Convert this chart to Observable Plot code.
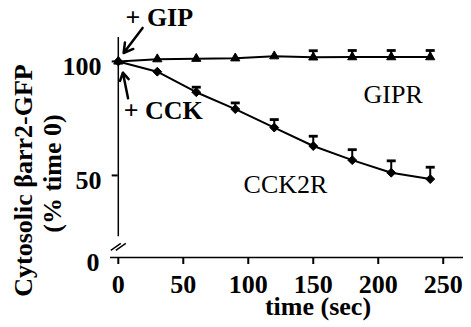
<!DOCTYPE html>
<html><head><meta charset="utf-8">
<script src="https://cdn.jsdelivr.net/npm/d3@7"></script>
<script src="https://cdn.jsdelivr.net/npm/@observablehq/plot@0.6"></script>
<style>body{margin:0;background:#fff} svg text{font-family:'Liberation Serif','Times New Roman',serif !important}</style>
</head><body><div id="chart"></div>
<script>
// ---- data ----
const times    = [0, 30, 60, 90, 120, 150, 180, 210, 240];
const gipr     = [100, 101, 101.2, 101.4, 102.3, 101.8, 101.9, 101.9, 101.9];
const giprErr  = [0, 0, 0, 0, 0, 2.9, 2.9, 2.9, 2.9];
const cck2r    = [100, 95.5, 86.5, 79.1, 71, 62.9, 56.7, 51.2, 48.4];
const cck2rErr = [0, 0, 2.2, 2.7, 3.5, 4.3, 4.6, 5.2, 5.2];
const xTicks = [0, 50, 100, 150, 200, 250];
const yTicks = [50, 100];
const yTickLabels = ["50", "100"];
// broken y axis: "0" is drawn at this position
const yZeroAt = 14;
const yAxisTop = 110.5;
const yAxisBreakEnd = 23.1;
const yBreakMark = 18.9;
const xLabel = "time (sec)";
const yLabel1 = "Cytosolic βarr2-GFP";
const yLabel2 = "(% time 0)";
const boldNotes = [{text: "+ GIP", t: 5.6, v: 115.6}, {text: "+ CCK", t: 4.1, v: 74.8}];
const seriesNotes = [{text: "GIPR", t: 188.7, v: 81.9}, {text: "CCK2R", t: 96.4, v: 42.3}];
const arrows = [{x1: 18.7, y1: 114.7, x2: 4.1, y2: 103.7}, {x1: 7.5, y1: 83.8, x2: 3.5, y2: 95.1}];

const giprRows = times.map((t, i) => ({t, v: gipr[i], e: giprErr[i]}));
const cckRows = times.map((t, i) => ({t, v: cck2r[i], e: cck2rErr[i]}));
const allRows = giprRows.concat(cckRows);
const errRows = allRows.filter(d => d.e > 0);

const capSymbol = {draw(ctx) { const w = 4.5, h = 1.4; ctx.moveTo(-w, -h); ctx.lineTo(w, -h); ctx.lineTo(w, h); ctx.lineTo(-w, h); ctx.closePath(); }};
const breakSymbol = {draw(ctx) { ctx.moveTo(-7.5, 4); ctx.lineTo(2.5, -3); ctx.moveTo(-2.5, 4); ctx.lineTo(7.5, -3); }};

const font = "'Liberation Serif', 'Times New Roman', serif";
const axisShift = 7.7; // y axis drawn at time 0, not at the frame edge

const chart = Plot.plot({
  width: 471,
  height: 327,
  marginTop: 37,
  marginBottom: 70,
  marginLeft: 110,
  marginRight: 8,
  style: {fontFamily: font, fontSize: "26px", fontWeight: "bold", background: "#fff", color: "#000"},
  x: {domain: [-6, 265.6]},
  y: {domain: [yZeroAt, yAxisTop]},
  marks: [
    Plot.ruleY([yZeroAt], {stroke: "black", strokeWidth: 1.5}),
    Plot.ruleX([0], {y1: yAxisBreakEnd, y2: yAxisTop, stroke: "black", strokeWidth: 1.5}),
    Plot.dot([{t: 0, v: yBreakMark}], {x: "t", y: "v", symbol: breakSymbol, fill: "none", stroke: "black", strokeWidth: 1.4}),
    Plot.axisX({ticks: xTicks, tickSize: 7, tickPadding: 10, strokeWidth: 2, fontSize: 26, fontFamily: font, fontWeight: "bold", label: null}),
    Plot.axisY({ticks: yTicks, tickSize: 6, strokeWidth: 2, dx: axisShift, tickFormat: () => "", label: null}),
    Plot.text(yTicks, {y: d => d, text: (d, i) => yTickLabels[i], frameAnchor: "left", dx: -9, dy: 5, textAnchor: "end", fontSize: 26, fontFamily: font, fontWeight: "bold"}),
    Plot.text(["0"], {y: () => yZeroAt, frameAnchor: "left", dx: -11, dy: 5, textAnchor: "end", fontSize: 26, fontFamily: font, fontWeight: "bold"}),
    Plot.text([xLabel], {frameAnchor: "bottom", dx: 31, dy: 57, textAnchor: "middle", lineAnchor: "bottom", fontSize: 26, fontFamily: font, fontWeight: "bold"}),
    Plot.text([yLabel1], {frameAnchor: "left", rotate: -90, dx: -79, dy: 33, textAnchor: "middle", lineAnchor: "bottom", fontSize: 26, fontFamily: font, fontWeight: "bold"}),
    Plot.text([yLabel2], {frameAnchor: "left", rotate: -90, dx: -50, dy: 26, textAnchor: "middle", lineAnchor: "bottom", fontSize: 26, fontFamily: font, fontWeight: "bold"}),
    Plot.line(giprRows, {x: "t", y: "v", stroke: "black", strokeWidth: 2}),
    Plot.line(cckRows, {x: "t", y: "v", stroke: "black", strokeWidth: 2}),
    Plot.ruleX(errRows, {x: "t", y1: "v", y2: d => d.v + d.e, stroke: "black", strokeWidth: 2}),
    Plot.dot(errRows, {x: "t", y: d => d.v + d.e, symbol: capSymbol, fill: "black", stroke: "none"}),
    Plot.dot(giprRows, {x: "t", y: "v", symbol: "triangle", r: 3.4, fill: "black", stroke: "black", strokeWidth: 1}),
    Plot.dot(cckRows, {x: "t", y: "v", symbol: "diamond2", r: 4, fill: "black", stroke: "black", strokeWidth: 1}),
    Plot.arrow(arrows, {x1: "x1", y1: "y1", x2: "x2", y2: "y2", headLength: 17, headAngle: 60, stroke: "black", strokeWidth: 2.5}),
    Plot.text(boldNotes, {x: "t", y: "v", text: "text", textAnchor: "start", lineAnchor: "bottom", fontSize: 26, fontFamily: font, fontWeight: "bold"}),
    Plot.text(seriesNotes, {x: "t", y: "v", text: "text", textAnchor: "start", lineAnchor: "bottom", fontSize: 26, fontFamily: font, fontWeight: "normal"})
  ]
});
document.getElementById("chart").appendChild(chart);
</script>
</body></html>
